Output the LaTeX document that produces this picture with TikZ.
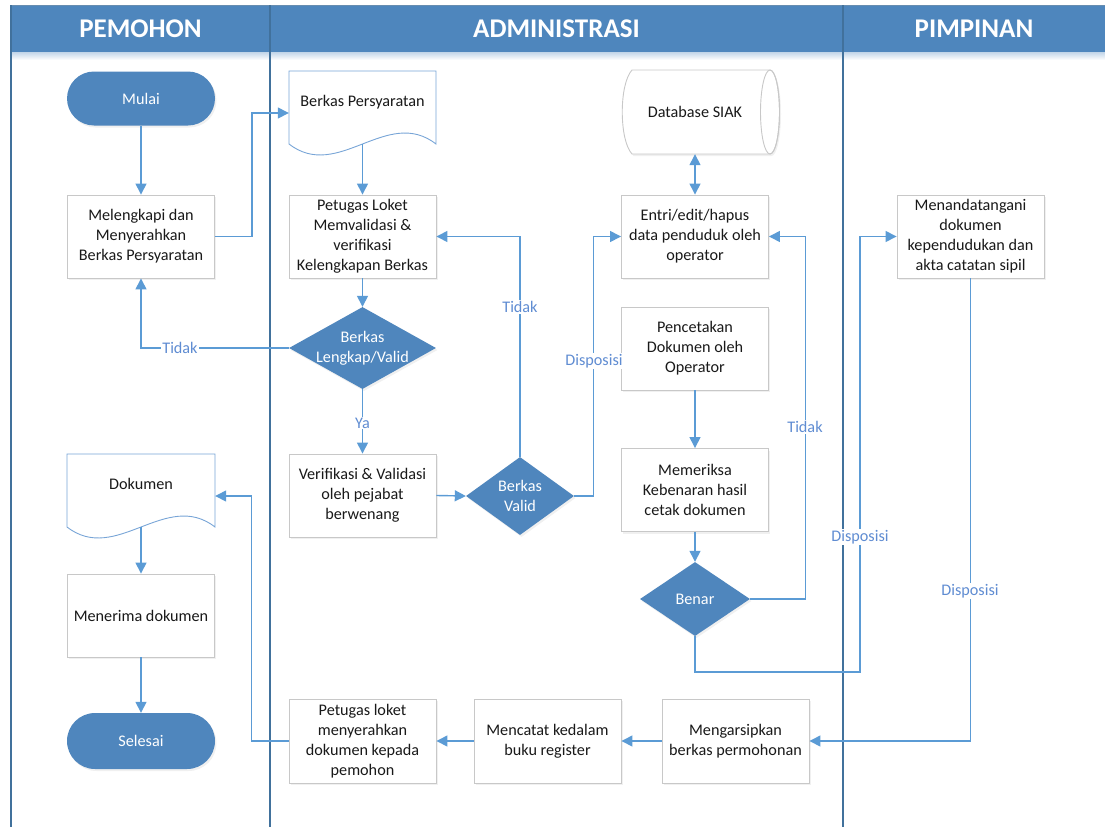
\documentclass[tikz,border=0pt]{standalone}
\usepackage{fontspec}
\setmainfont{Carlito}
\usetikzlibrary{arrows.meta,shapes.geometric,shadows}
\definecolor{hdr}{RGB}{78,134,189}
\definecolor{lanec}{RGB}{65,113,156}
\definecolor{conn}{RGB}{91,155,213}
\definecolor{shp}{RGB}{79,134,189}
\definecolor{boxline}{RGB}{200,200,200}
\definecolor{lblc}{RGB}{95,140,210}
\definecolor{docline}{RGB}{120,165,215}
\definecolor{txt}{RGB}{25,25,25}
\begin{document}
\begin{tikzpicture}[x=1pt,y=-1pt,
  every node/.style={font=\fontsize{16.2}{20}\selectfont, text=txt},
  softshadow/.style={drop shadow={opacity=0.12,shadow xshift=1.5pt,shadow yshift=-2pt}},
  proc/.style={draw=boxline, line width=0.9pt, fill=white, minimum width=147pt, minimum height=83pt, inner sep=2pt, align=center, softshadow},
  term/.style={fill=shp, rounded corners=27pt, minimum width=148pt, minimum height=54pt, text=white, softshadow},
  dia/.style={diamond, fill=shp, inner sep=0pt, softshadow},
  diatext/.style={text=white, align=center},
  docnode/.style={minimum width=147pt, minimum height=73pt, inner sep=0pt, text depth=13pt},
  docdraw/.style={draw=docline, line width=0.9pt, fill=white},
  arr/.style={draw=conn, line width=1.4pt, -{Triangle[length=11pt,width=11pt]}},
  lbl/.style={fill=white, text=lblc, inner sep=1pt},
  title/.style={text=white, font=\fontsize{27}{30}\bfseries\selectfont},
  lanel/.style={draw=lanec, line width=1.8pt}
]
\useasboundingbox (0,0) rectangle (1105,827);
% header band
\shade[top color=hdr!35, bottom color=white] (11,52) rectangle (1105,60);
\fill[hdr] (11,5) rectangle (1105,52);
\draw[draw=lanec!80, line width=1pt] (11,5) -- (1105,5);
\draw[lanel] (11,5) -- (11,827);
\draw[lanel] (270,5) -- (270,827);
\draw[lanel] (843,5) -- (843,827);
\node[title] (hp) at (140.5,29) {PEMOHON};
\node[title] (ha) at (556.5,29) {ADMINISTRASI};
\node[title] (hm) at (974,29) {PIMPINAN};

% pemohon lane
\node[term] (mulai) at (141,98.5) {Mulai};
\node[proc] (mel) at (141,236.5) {Melengkapi dan\\Menyerahkan\\Berkas Persyaratan};
\draw[docdraw] (67,454) -- (215,454) -- (215,527) .. controls +(-49,-38) and +(49,38) .. (67,527) -- cycle;
\node[docnode, minimum width=148pt] (dok) at (141,490.5) {Dokumen};
\node[proc] (men) at (141,615.5) {Menerima dokumen};
\node[term, minimum height=56pt, rounded corners=28pt] (sel) at (141,741) {Selesai};

% administrasi lane
\draw[docdraw] (289,71) -- (436,71) -- (436,144) .. controls +(-49,-38) and +(49,38) .. (289,144) -- cycle;
\node[docnode] (bp) at (362.5,107.5) {Berkas Persyaratan};
\node[proc] (pet) at (362.5,236.5) {Petugas Loket\\Memvalidasi \&\\verifikasi\\Kelengkapan Berkas};
\node[dia, minimum width=147pt, minimum height=82pt, label={[diatext]center:Berkas\\Lengkap/Valid}] (d1) at (362.5,348) {};
\node[proc] (ver) at (362.5,495.5) {Verifikasi \& Validasi\\oleh pejabat\\berwenang};
\node[dia, minimum width=108pt, minimum height=78pt, label={[diatext]center:Berkas\\Valid}] (d2) at (520,496) {};

% database cylinder
\filldraw[draw=boxline, line width=0.9pt, fill=white, softshadow] (632,70) -- (770,70) arc(-90:90:9.5 and 42) -- (632,154) .. controls (619,140) and (619,84) .. (632,70) -- cycle;
\draw[draw=boxline, line width=0.9pt] (770,112) ellipse (9.5 and 42);
\node[minimum width=148pt, minimum height=84pt, inner sep=0pt] (db) at (695,112) {Database SIAK};

\node[proc] (entri) at (695,236.5) {Entri/edit/hapus\\data penduduk oleh\\operator};
\node[proc] (pen) at (695,348.5) {Pencetakan\\Dokumen oleh\\Operator};
\node[proc] (mem) at (695,490) {Memeriksa\\Kebenaran hasil\\cetak dokumen};
\node[dia, minimum width=110pt, minimum height=74pt, label={[diatext]center:Benar}] (d3) at (695,599) {};

\node[proc, minimum height=84pt] (pl) at (362.5,741) {Petugas loket\\menyerahkan\\dokumen kepada\\pemohon};
\node[proc, minimum height=84pt] (mcat) at (547.5,741) {Mencatat kedalam\\buku register};
\node[proc, minimum height=84pt] (arc) at (735.5,741) {Mengarsipkan\\berkas permohonan};

% pimpinan lane
\node[proc] (mnd) at (970.5,236.5) {Menandatangani\\dokumen\\kependudukan dan\\akta catatan sipil};

% connectors
\draw[arr] (mulai.south) -- (mel.north);
\draw[arr] (mel.east) -- ++(37,0) |- ([yshift=-5.5pt]bp.west);
\draw[arr] (bp.south) -- (pet.north);
\draw[arr] (pet.south) -- (d1.north);
\draw[arr] (d1.west) -| (mel.south);
\draw[arr] (d1.south) -- (ver.north);
\draw[arr] (ver.east) -- (d2.west);
\draw[arr] (d2.north) |- (pet.east);
\draw[arr] (d2.east) -- ++(19,0) |- (entri.west);
\draw[draw=conn, line width=1.4pt, {Triangle[length=11pt,width=11pt]}-{Triangle[length=11pt,width=11pt]}] (db.south) -- (entri.north);
\draw[arr] (pen.south) -- (mem.north);
\draw[arr] (mem.south) -- (d3.north);
\draw[arr] (d3.east) -- ++(55,0) |- (entri.east);
\draw[arr] (d3.south) |- (860,672) |- (mnd.west);
\draw[arr] (mnd.south) |- (arc.east);
\draw[arr] (arc.west) -- (mcat.east);
\draw[arr] (mcat.west) -- (pl.east);
\draw[arr] (pl.west) -- ++(-37,0) |- ([yshift=-5.5pt]dok.east);
\draw[arr] (dok.south) -- (men.north);
\draw[arr] (men.south) -- (sel.north);

% connector labels
\node[lbl] (t1) at (180,348) {Tidak};
\node[lbl] (ya) at (362.5,423) {Ya};
\node[lbl] (t2) at (520,307) {Tidak};
\node[lbl] (ds1) at (594,361) {Disposisi};
\node[lbl] (t3) at (805,427) {Tidak};
\node[lbl] (ds2) at (860,537) {Disposisi};
\node[lbl] (ds3) at (970,591) {Disposisi};
\end{tikzpicture}
\end{document}
